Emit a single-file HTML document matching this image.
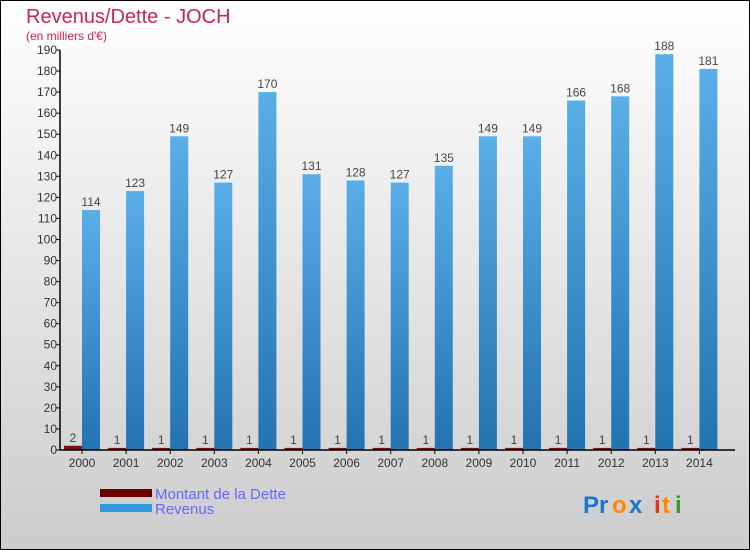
<!DOCTYPE html>
<html><head><meta charset="utf-8"><style>
body{margin:0}
#c{width:750px;height:550px;position:relative;overflow:hidden;font-family:"Liberation Sans",sans-serif}
</style></head><body>
<div id="c">
<svg id="s" width="750" height="550" xmlns="http://www.w3.org/2000/svg">
<defs>
<linearGradient id="bg" x1="0" y1="0" x2="0" y2="1"><stop offset="0" stop-color="#ffffff"/><stop offset="1" stop-color="#cccccc"/></linearGradient>
<linearGradient id="rev" x1="0" y1="0" x2="0" y2="1"><stop offset="0" stop-color="#5aaee8"/><stop offset="1" stop-color="#2273b0"/></linearGradient>
</defs>
<rect x="0.5" y="0.5" width="749" height="549" fill="url(#bg)" stroke="#000"/>
<text x="26" y="23" font-size="20" fill="#c8245a">Revenus/Dette - JOCH</text>
<text x="26" y="40" font-size="12" fill="#c8245a">(en milliers d'€)</text>
<g id="grid"></g><g id="bars"></g><g id="axes"></g>
<rect x="100" y="489" width="52" height="8" fill="#660000"/>
<rect x="100" y="504" width="52" height="8" fill="#3399dd"/>
<text x="155" y="499" font-size="15" fill="#6666ff">Montant de la Dette</text>
<text x="155" y="514" font-size="15" fill="#6666ff">Revenus</text>
<g font-size="24" font-weight="bold">
<text x="583" y="513" fill="#1a77cc">Pr</text><text x="612" y="513" fill="#ff8800">o</text><text x="629" y="513" fill="#1a77cc">x</text><text x="654" y="513" fill="#ee3311">i</text><text x="662" y="513" fill="#ff8800">t</text><text x="675" y="513" fill="#339933">i</text>
</g>
</svg>
</div>
<script>
const years=["2000","2001","2002","2003","2004","2005","2006","2007","2008","2009","2010","2011","2012","2013","2014"];
const revenus=[114,123,149,127,170,131,128,127,135,149,149,166,168,188,181];
const dette=[2,1,1,1,1,1,1,1,1,1,1,1,1,1,1];
const yTicks=[0,10,20,30,40,50,60,70,80,90,100,110,120,130,140,150,160,170,180,190];
const NS="http://www.w3.org/2000/svg";
const x0=60,y0=450,yTop=50,yMax=190,step=44.1,first=82;
function yS(v){return y0-(v/yMax)*(y0-yTop);}
function xS(i){return first+i*step;}
function mk(t,a,p){const e=document.createElementNS(NS,t);for(const k in a)e.setAttribute(k,a[k]);p.appendChild(e);return e;}
const bars=document.getElementById('bars'),axes=document.getElementById('axes');
years.forEach((y,i)=>{
  const cx=xS(i);
  const d=mk('rect',{x:cx-18,y:yS(dette[i]),width:18,height:y0-yS(dette[i]),fill:'#7a1010'},bars);
  
  
  const r=mk('rect',{x:cx,y:yS(revenus[i]),width:18,height:y0-yS(revenus[i]),fill:'url(#rev)'},bars);
  
  
  const lr=mk('text',{x:cx+9,y:yS(revenus[i])-4,'font-size':12,fill:'#444','text-anchor':'middle'},bars);
  lr.textContent=revenus[i];
  
  
  const ld=mk('text',{x:cx-9,y:yS(dette[i])-4,'font-size':12,fill:'#444','text-anchor':'middle'},bars);
  ld.textContent=dette[i];
  
  
  const tl=mk('text',{x:cx,y:467,'font-size':12,fill:'#333','text-anchor':'middle'},axes);
  tl.textContent=y;
  
  
  mk('line',{x1:cx,x2:cx,y1:y0,y2:y0+4,stroke:'#000'},axes);
});
yTicks.forEach(v=>{
  mk('line',{x1:x0-4,x2:x0,y1:yS(v),y2:yS(v),stroke:'#000'},axes);
  const t=mk('text',{x:x0-3,y:yS(v)+4,'font-size':12,fill:'#333','text-anchor':'end'},axes);
  t.textContent=v;
  
  
});
const ya=mk('line',{x1:x0,x2:x0,y1:yTop,y2:y0,stroke:'#000','stroke-width':1.5},axes);


const xa=mk('line',{x1:x0,x2:735,y1:y0,y2:y0,stroke:'#000','stroke-width':1.5},axes);


</script>
</body></html>
